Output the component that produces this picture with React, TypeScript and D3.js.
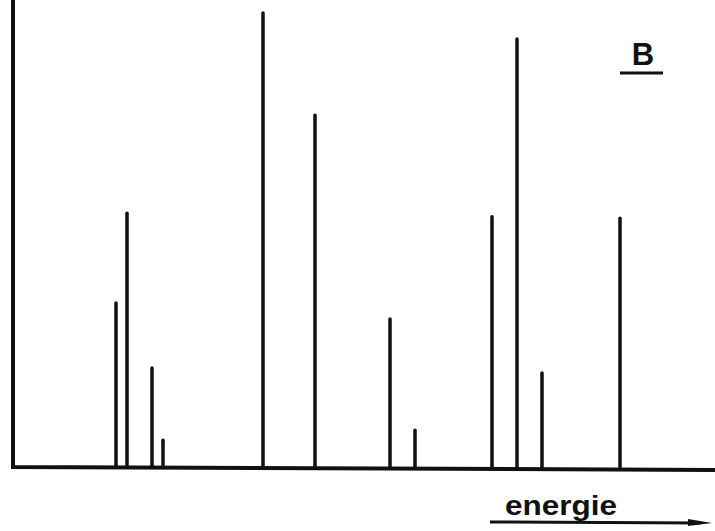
import React from "react";
import * as d3 from "d3";

const energies = [103, 114, 139, 150, 250, 302, 377, 402, 479, 504, 529, 607];
const intensities = [36.1, 55.9, 21.8, 5.9, 100, 77.5, 32.6, 8.1, 55.1, 94.3, 20.7, 54.8];
const panelLabel = "B";
const axisLabel = "energie";

export default function App() {
  const W = 715, H = 531;
  const x = d3.scaleLinear().domain([0, 702]).range([13, 715]);
  const y = d3.scaleLinear().domain([0, 100]).range([467, 13]);
  const stroke = "#111";
  return (
    <svg width={W} height={H} style={{ position: "absolute", left: 0, top: 0, background: "#fff" }}>
      {/* axes */}
      <path d={`M${x(0)},0 L${x(0)},${y(0)} L${x(702)},${y(0) + 3}`} fill="none" stroke={stroke} strokeWidth={4} strokeLinejoin="miter" />
      {energies.map((e, i) => (
        <line key={i} x1={x(e)} x2={x(e)} y1={y(0)} y2={y(intensities[i])} stroke={stroke} strokeWidth={3.5} strokeLinecap="round" />
      ))}
      <text x={643} y={65} textAnchor="middle" fontFamily="Liberation Sans, Arial, sans-serif" fontWeight="bold" fontSize={31} fill={stroke}>{panelLabel}</text>
      <line x1={620} x2={663} y1={73} y2={73} stroke={stroke} strokeWidth={3} />
      <text x={505} y={515} textLength={112} lengthAdjust="spacingAndGlyphs" fontFamily="Liberation Sans, Arial, sans-serif" fontWeight="bold" fontSize={28} fill={stroke}>{axisLabel}</text>
      <line x1={490} x2={700} y1={522} y2={523} stroke={stroke} strokeWidth={3} />
      <path d="M688,519 L712,523 L688,526 Z" fill={stroke} />
    </svg>
  );
}
